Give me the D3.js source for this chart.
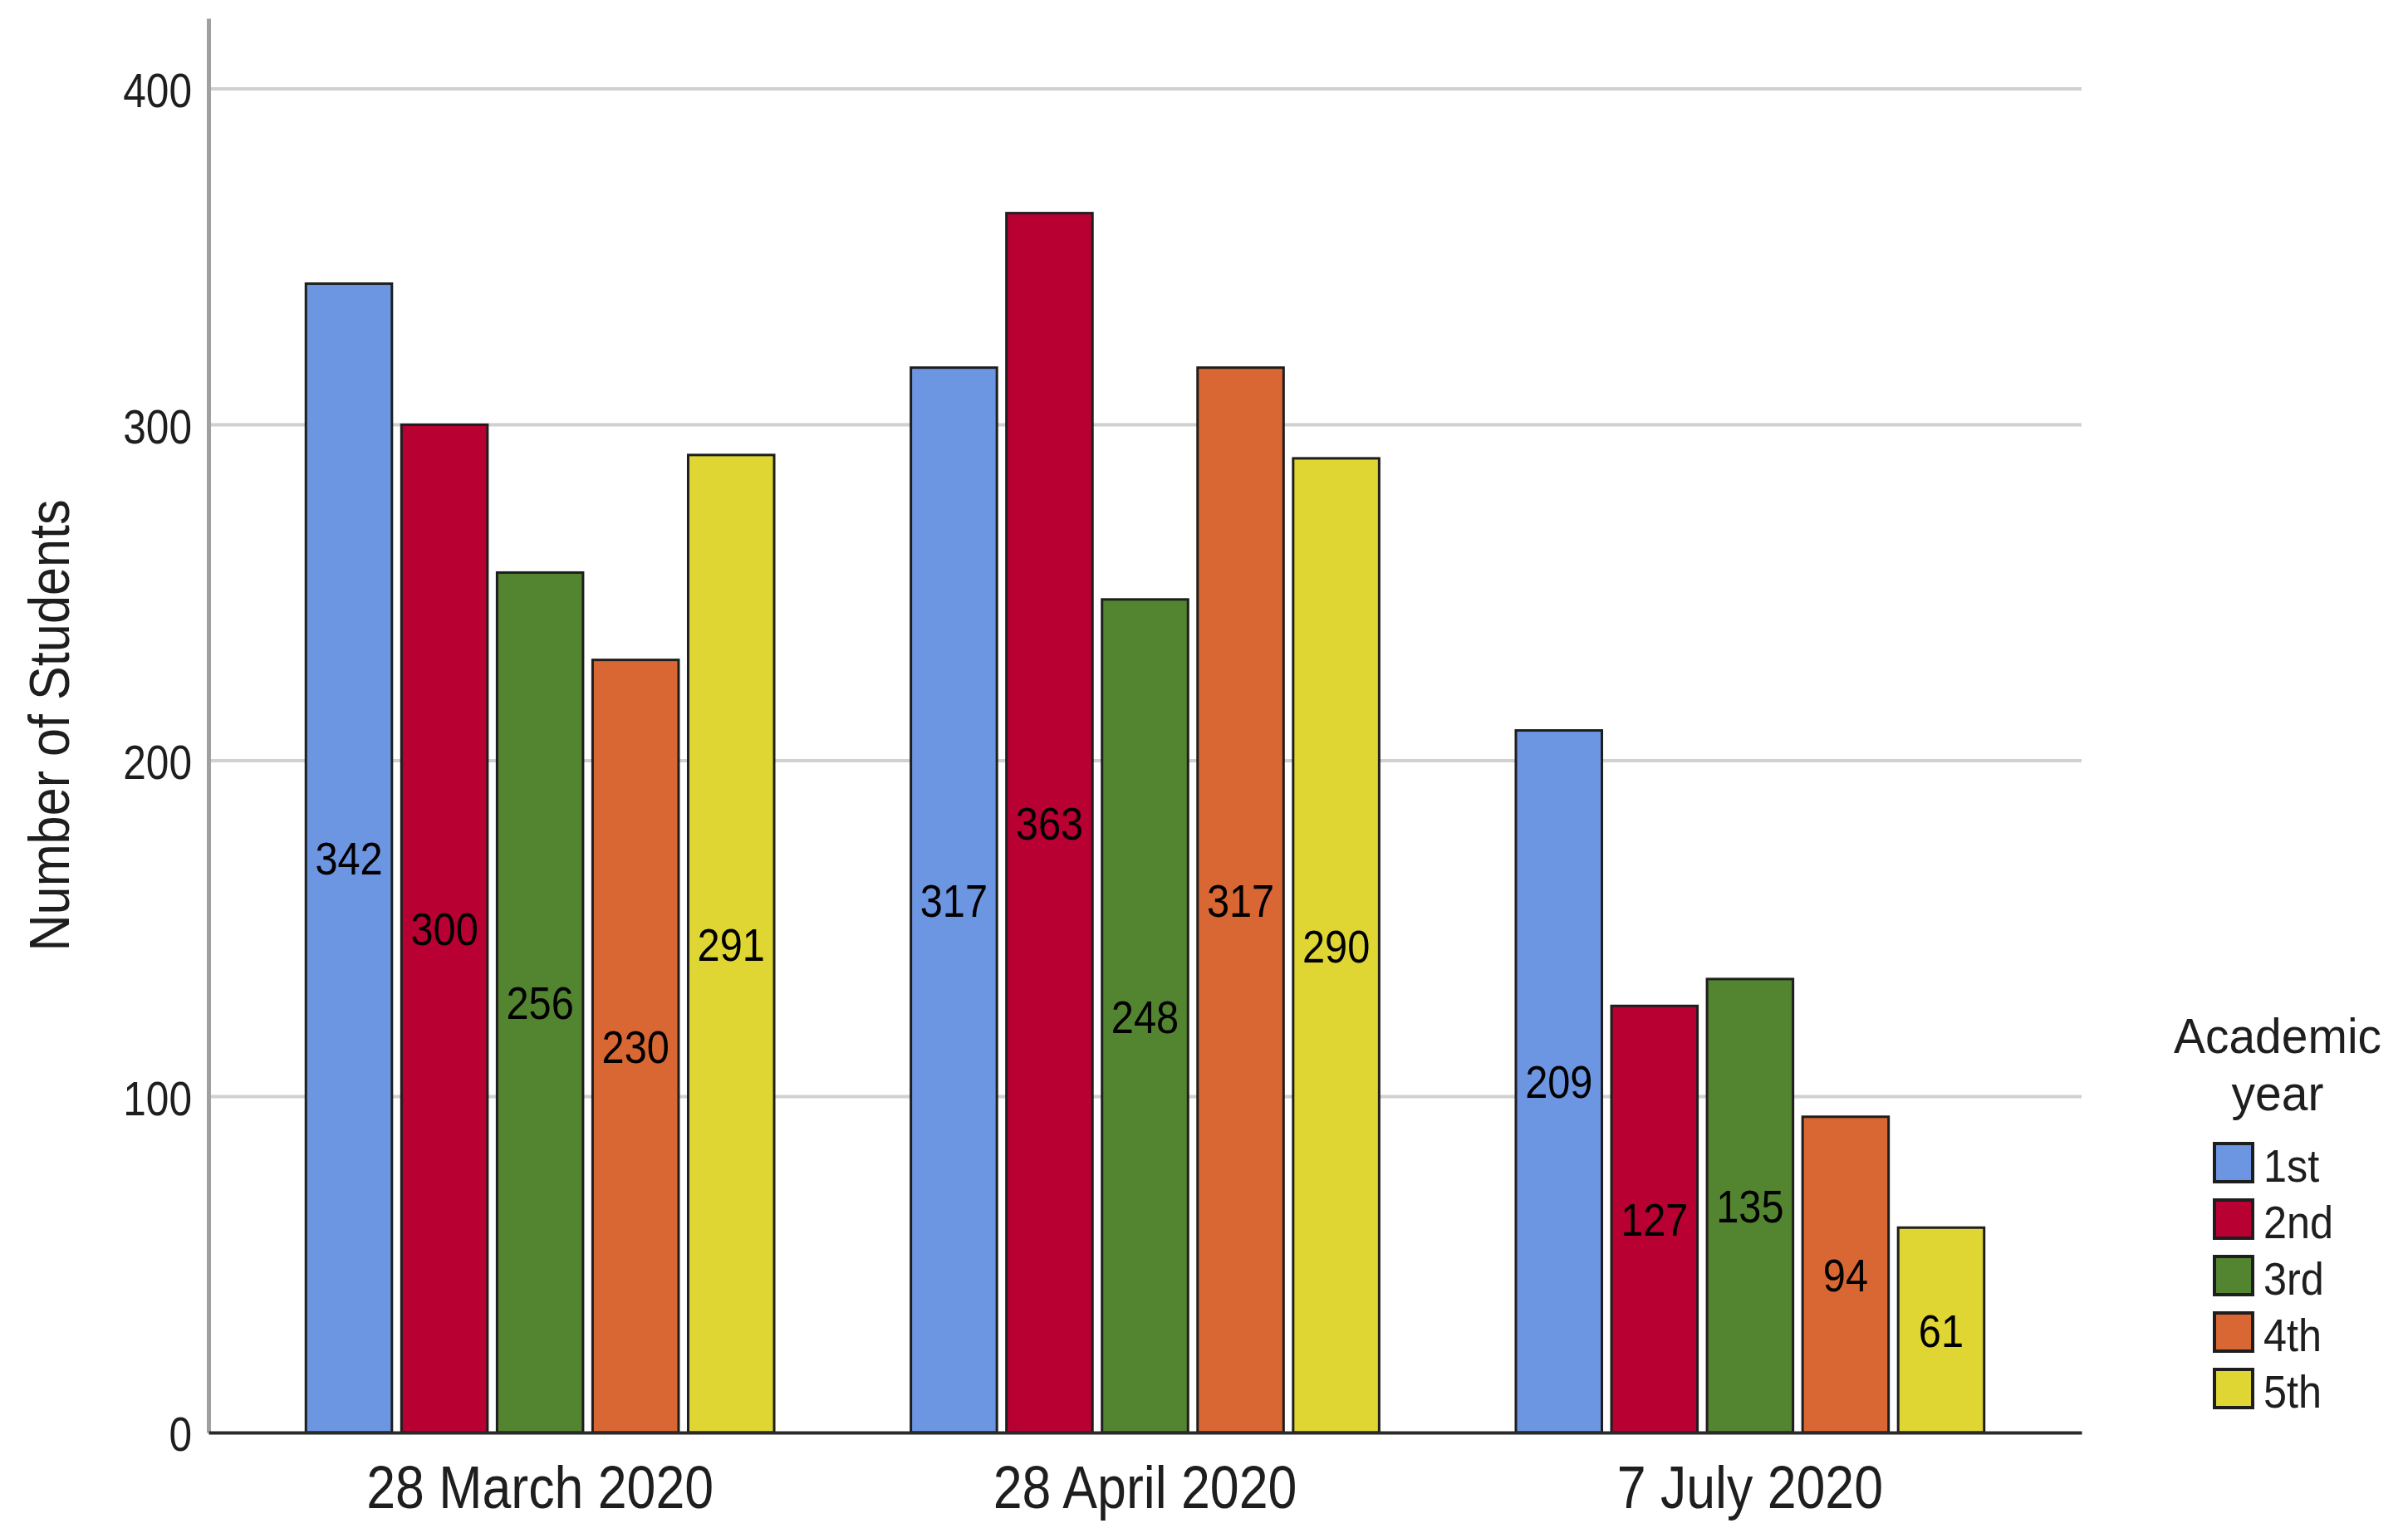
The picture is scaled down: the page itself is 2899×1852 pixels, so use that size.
<!DOCTYPE html>
<html>
<head>
<meta charset="utf-8">
<script src="https://cdn.jsdelivr.net/npm/d3@7"></script>
<style>
	body { margin: 0; background: #fff; }
	text { font-family: "Liberation Sans", Arial, sans-serif; fill: #1e1e1e; }
	.grid line { stroke: #d0d0d0; stroke-width: 4; }
	.bar { stroke: #1e1e1e; stroke-width: 3; }
</style>
</head>
<body>
<svg id="chart" width="2899" height="1852"></svg>
<script>

var dates = ["28 March 2020", "28 April 2020", "7 July 2020"];
var years = ["1st", "2nd", "3rd", "4th", "5th"];
var colors = ["#6d96e2", "#b90033", "#538430", "#d86733", "#dfd634"];
var yTicks = [0, 100, 200, 300, 400];

// students per academic year, one list per date
var march = [342, 300, 256, 230, 291];
var april = [317, 363, 248, 317, 290];
var july = [209, 127, 135, 94, 61];

var counts = [march, april, july];

var svg = d3.select("#chart");

var xLeft = 251,
	xRight = 2506,
	yBottom = 1725,
	yTop = 22,
	narrow = 0.87;	// the source text is horizontally condensed

var x0 = d3.scaleBand()
	.domain(dates)
	.range([xLeft, xRight])
	.paddingInner(0.226)
	.paddingOuter(0.161);

var x1 = d3.scaleBand()
	.domain(years)
	.range([0, x0.bandwidth()])
	.paddingInner(0.1);

var y = d3.scaleLinear()
	.domain([0, 421])
	.range([yBottom, yTop]);

var color = d3.scaleOrdinal()
	.domain(years)
	.range(colors);

// gridlines
svg.append("g")
	.attr("class", "grid")
	.selectAll("line")
	.data(yTicks.filter(function (d) { return d > 0; }))
	.enter()
	.append("line")
	.attr("x1", xLeft)
	.attr("x2", xRight)
	.attr("y1", function (d) { return y(d); })
	.attr("y2", function (d) { return y(d); });

// y axis
var yAxis = svg.append("g")
	.attr("transform", "translate(" + xLeft + ",0)")
	.call(d3.axisLeft(y).tickValues(yTicks).tickSize(0).tickPadding(23));

yAxis.select(".domain")
	.attr("stroke", "#a0a0a0")
	.attr("stroke-width", 5);

yAxis.selectAll(".tick text")
	.attr("font-size", 57)
	.attr("dy", "0.38em")
	.attr("transform", "scale(" + narrow + ",1)")
	.style("fill", "#1e1e1e");

svg.append("text")
	.attr("transform", "translate(59," + (yTop + yBottom) / 2 + ") rotate(-90) scale(0.9,1)")
	.attr("text-anchor", "middle")
	.attr("dy", "0.35em")
	.attr("font-size", 68)
	.text("Number of Students");

// bars
var groupG = svg.selectAll("g.group")
	.data(dates)
	.enter()
	.append("g")
	.attr("class", "group")
	.attr("transform", function (d) {
		return "translate(" + x0(d) + ",0)";
	});

var barG = groupG.selectAll("g.bar-g")
	.data(function (d, i) {
		return counts[i].map(function (v, j) {
			return {year: years[j], value: v};
		});
	})
	.enter()
	.append("g")
	.attr("class", "bar-g");

barG.append("rect")
	.attr("class", "bar")
	.attr("x", function (d) { return x1(d.year); })
	.attr("y", function (d) { return y(d.value); })
	.attr("width", x1.bandwidth())
	.attr("height", function (d) { return y(0) - y(d.value); })
	.attr("fill", function (d) { return color(d.year); });

barG.append("text")
	.attr("transform", function (d) {
		return "translate(" + (x1(d.year) + x1.bandwidth() / 2) + "," + y(d.value / 2) + ") scale(" + narrow + ",1)";
	})
	.attr("dy", "0.36em")
	.attr("text-anchor", "middle")
	.attr("font-size", 56)
	.style("fill", "#000")
	.text(function (d) { return d.value; });

// x axis
var xAxis = svg.append("g")
	.attr("transform", "translate(0," + yBottom + ")")
	.call(d3.axisBottom(x0).tickSize(0).tickPadding(40).tickSizeOuter(0));

xAxis.select(".domain")
	.attr("stroke", "#2a2a2a")
	.attr("stroke-width", 4);

xAxis.selectAll(".tick text")
	.attr("font-size", 72)
	.attr("dy", "0.71em")
	.attr("transform", "scale(" + narrow + ",1)")
	.style("fill", "#1e1e1e");

// legend
var legend = svg.append("g")
	.attr("transform", "translate(2742,0)");

legend.append("text")
	.attr("transform", "translate(0,1268) scale(0.95,1)")
	.attr("text-anchor", "middle")
	.attr("font-size", 60)
	.text("Academic");

legend.append("text")
	.attr("transform", "translate(0,1337) scale(0.95,1)")
	.attr("text-anchor", "middle")
	.attr("font-size", 60)
	.text("year");

var item = legend.selectAll("g.item")
	.data(years)
	.enter()
	.append("g")
	.attr("class", "item")
	.attr("transform", function (d, i) {
		return "translate(-76," + (1377 + i * 68) + ")";
	});

item.append("rect")
	.attr("width", 46)
	.attr("height", 46)
	.attr("fill", function (d) { return color(d); })
	.attr("stroke", "#1e1e1e")
	.attr("stroke-width", 4);

item.append("text")
	.attr("transform", "translate(59,25) scale(0.9,1)")
	.attr("dy", "0.38em")
	.attr("font-size", 56)
	.text(function (d) { return d; });

</script>
</body>
</html>
